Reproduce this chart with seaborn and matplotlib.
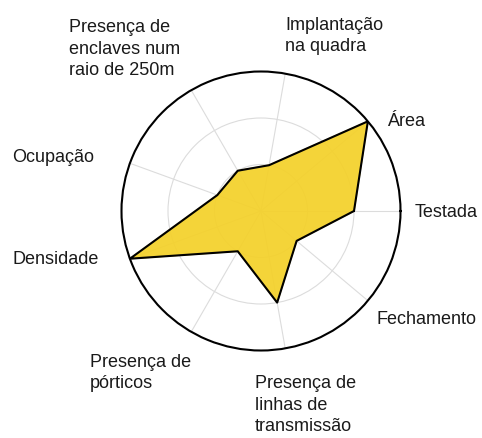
import numpy as np
import matplotlib
matplotlib.use("Agg")
import matplotlib.pyplot as plt
import seaborn as sns

sns.set_style("white")
plt.rcParams['font.family'] = ['Liberation Sans', 'DejaVu Sans']

# categories counter-clockwise starting at 3 o'clock
categories = ["Testada", "Área", "Implantação\nna quadra",
              "Presença de\nenclaves num\nraio de 250m", "Ocupação",
              "Densidade", "Presença de\npórticos",
              "Presença de\nlinhas de\ntransmissão", "Fechamento"]
values = [2, 3, 1, 1, 1, 3, 1, 2, 1]
ring_ticks = [1, 2, 3]

# label anchor points in figure pixels (left, vertical centre)
label_pos = [(415, 213), (387, 121), (285, 36), (69, 49), (12, 157),
             (12, 260), (90, 373), (255, 405), (377, 319)]

W, H = 482, 438
fig = plt.figure(figsize=(W / 100, H / 100), dpi=100)
cx, cy, R = 261, 211, 139.5
ax = fig.add_axes([(cx - R) / W, (H - cy - R) / H, 2 * R / W, 2 * R / H],
                  projection="polar")

n = len(categories)
angles = np.arange(n) * 2 * np.pi / n
ang_closed = np.append(angles, angles[0])
val_closed = np.append(values, values[0])

ax.fill(ang_closed, val_closed, color="#F4D12A", alpha=0.93, zorder=2)
ax.plot(ang_closed, val_closed, color="black", lw=1.5, zorder=3)

ax.set_ylim(0, 3)
ax.set_yticks(ring_ticks[:-1])
ax.set_yticklabels([])
ax.set_xticks(angles)
ax.set_xticklabels([])
ax.grid(True, color="#dcdcdc", lw=0.8)
ax.set_axisbelow(True)
ax.spines["polar"].set_color("black")
ax.spines["polar"].set_linewidth(1.5)

for text, (px, py) in zip(categories, label_pos):
    fig.text(px / W, 1 - py / H, text, ha="left", va="center",
             fontsize=13, linespacing=1.35, color="#1a1a1a")

fig.savefig("out.png", dpi=100)
